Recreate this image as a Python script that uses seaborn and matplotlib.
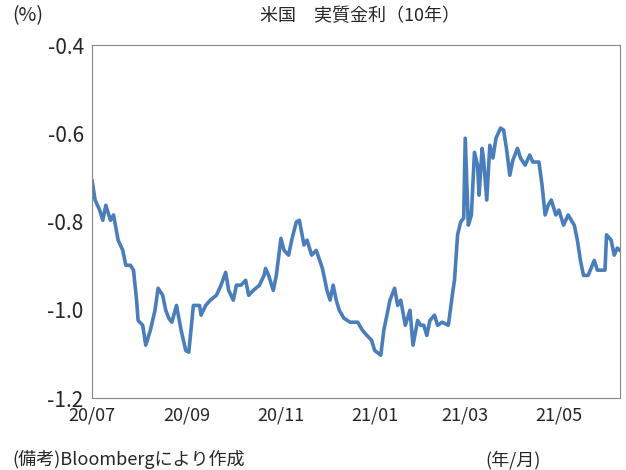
import matplotlib
matplotlib.use("Agg")
import matplotlib.pyplot as plt
import seaborn as sns
import pandas as pd
import numpy as np

sns.set_style("white")
plt.rcParams['font.family'] = ['Noto Sans CJK JP', 'DejaVu Sans']

day_offsets = [0,2,5,7,9,12,14,17,20,22,25,27,29,30,33,35,38,41,43,46,48,50,52,55,58,61,63,66,70,71,74,77,81,84,87,89,92,94,97,100,102,105,109,112,113,115,118,120,123,125,128,130,133,135,138,140,143,146,150,153,155,157,159,161,164,168,173,176,179,182,184,188,190,194,197,199,201,204,207,209,212,214,216,218,220,223,225,228,232,235,236,238,240,242,243,245,247,249,251,252,254,255,257,259,261,263,266,268,270,272,274,277,279,282,285,287,291,293,295,297,299,302,304,307,310,314,316,318,320,323,327,329,332,334,335,338,340,342,345,346]
values = [-0.706,-0.751,-0.774,-0.797,-0.763,-0.797,-0.785,-0.842,-0.865,-0.899,-0.899,-0.910,-0.978,-1.024,-1.035,-1.080,-1.046,-1.001,-0.951,-0.967,-1.001,-1.019,-1.028,-0.990,-1.046,-1.092,-1.096,-0.990,-0.990,-1.012,-0.990,-0.978,-0.967,-0.944,-0.915,-0.956,-0.978,-0.944,-0.944,-0.933,-0.967,-0.956,-0.944,-0.922,-0.906,-0.922,-0.956,-0.922,-0.838,-0.865,-0.876,-0.842,-0.801,-0.797,-0.853,-0.842,-0.876,-0.865,-0.906,-0.956,-0.978,-0.944,-0.978,-1.001,-1.019,-1.028,-1.028,-1.046,-1.058,-1.069,-1.092,-1.103,-1.046,-0.978,-0.951,-0.990,-0.978,-1.035,-1.001,-1.080,-1.024,-1.035,-1.035,-1.058,-1.024,-1.012,-1.035,-1.028,-1.035,-0.956,-0.933,-0.830,-0.801,-0.792,-0.611,-0.808,-0.785,-0.643,-0.672,-0.740,-0.634,-0.661,-0.751,-0.627,-0.656,-0.611,-0.588,-0.593,-0.638,-0.695,-0.661,-0.634,-0.656,-0.672,-0.649,-0.665,-0.665,-0.717,-0.785,-0.763,-0.751,-0.785,-0.774,-0.808,-0.785,-0.808,-0.842,-0.888,-0.922,-0.922,-0.888,-0.910,-0.910,-0.910,-0.830,-0.842,-0.876,-0.860,-0.869,-0.865]
yticks = [-0.4, -0.6, -0.8, -1.0, -1.2]
ytick_labels = ["-0.4", "-0.6", "-0.8", "-1.0", "-1.2"]
xtick_dates = ["2020-07-01","2020-09-01","2020-11-01","2021-01-01","2021-03-01","2021-05-01"]
xtick_labels = ["20/07","20/09","20/11","21/01","21/03","21/05"]

dates = pd.Timestamp("2020-07-01") + pd.to_timedelta(day_offsets, unit="D")
df = pd.DataFrame({"date": dates, "value": values})

fig = plt.figure(figsize=(6.26, 4.70), dpi=100)
ax = fig.add_axes([0.147, 0.153, 0.844, 0.751])
sns.lineplot(data=df, x="date", y="value", ax=ax, color="#4a7ebb", linewidth=2.6)
ax.set_ylim(-1.2, -0.4)
ax.set_xlim(pd.Timestamp("2020-07-01"), pd.Timestamp("2021-06-10"))
ax.set_yticks(yticks)
ax.set_yticklabels(ytick_labels, fontsize=15)
ax.set_xticks(pd.to_datetime(xtick_dates))
ax.set_xticklabels(xtick_labels, fontsize=13)
ax.set_xlabel(""); ax.set_ylabel("")
for s in ax.spines.values():
    s.set_color("#888888"); s.set_linewidth(0.8)
ax.tick_params(length=0, pad=6)
fig.text(0.02, 0.955, "(%)", fontsize=14)
fig.text(0.575, 0.955, "米国　実質金利（10年）", fontsize=13, ha="center")
fig.text(0.02, 0.01, "(備考)Bloombergにより作成", fontsize=13)
fig.text(0.775, 0.01, "(年/月)", fontsize=13)
fig.savefig("out.png", dpi=100)
